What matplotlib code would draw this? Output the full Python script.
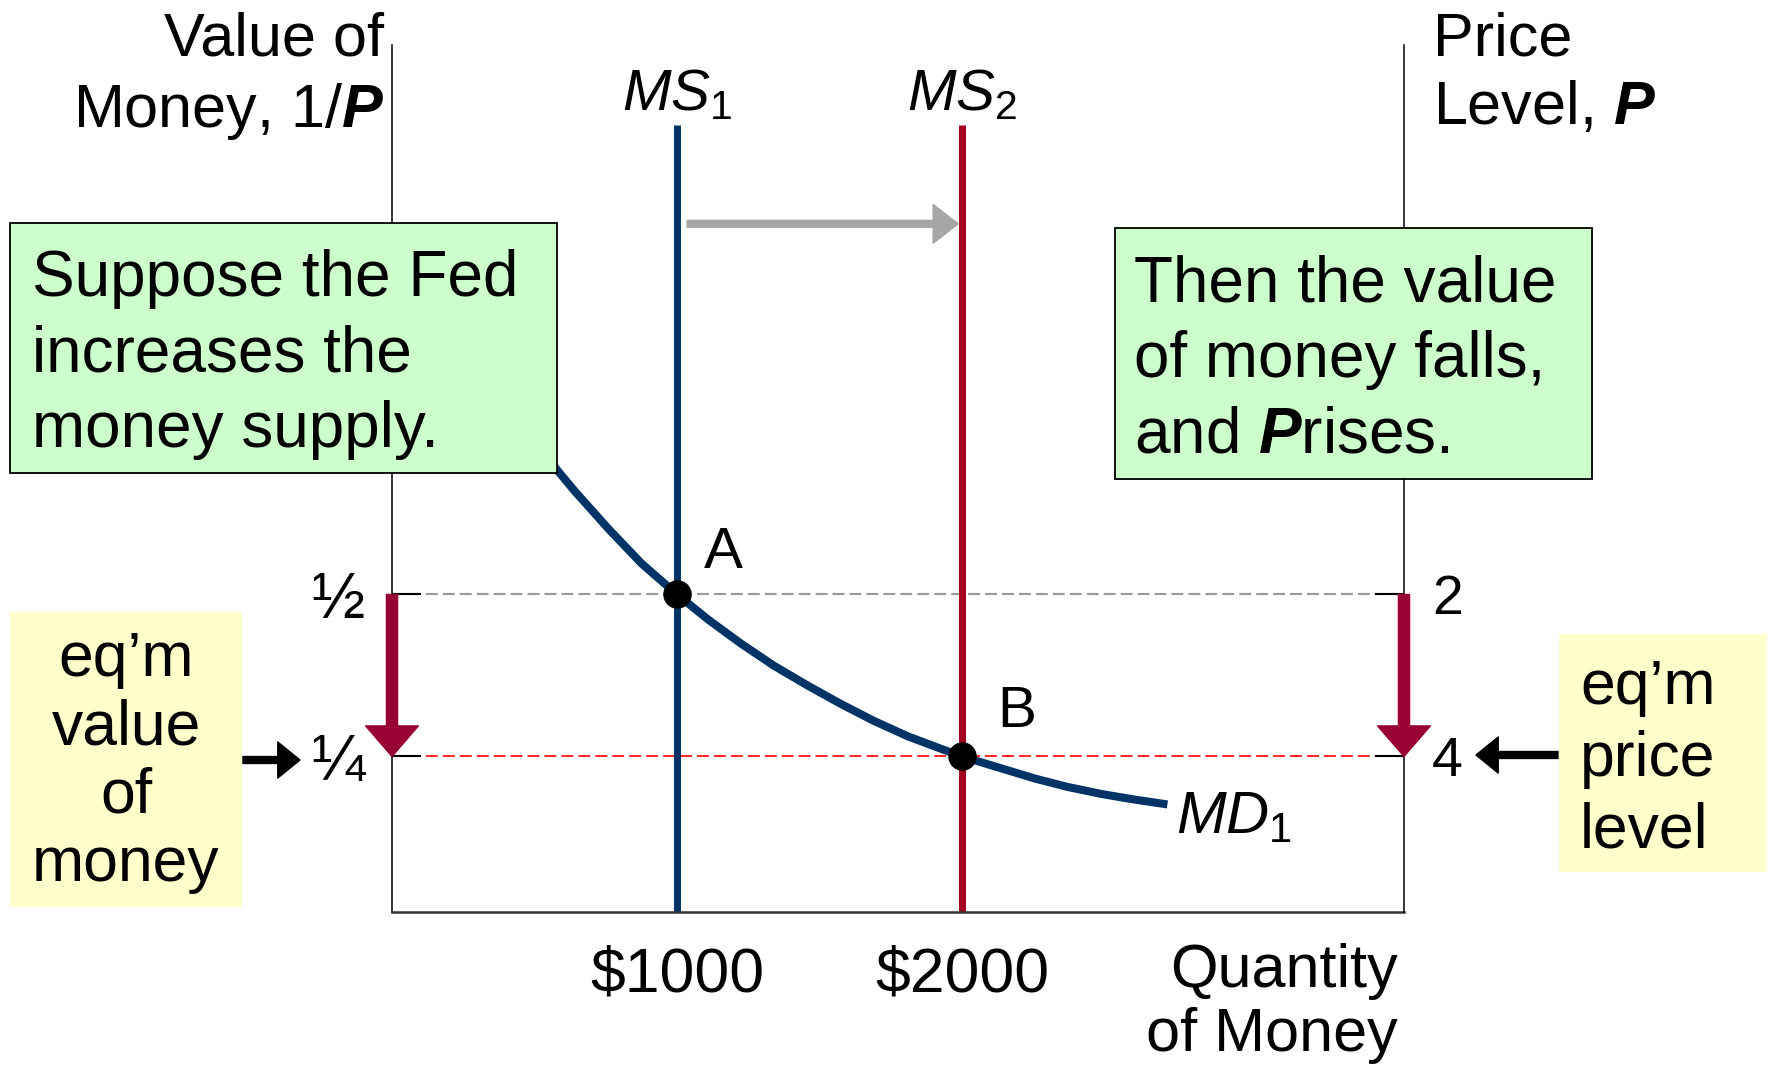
import matplotlib
matplotlib.use("Agg")
import matplotlib.pyplot as plt
from matplotlib.patches import Rectangle, FancyArrowPatch

plt.rcParams['font.family'] = ['Liberation Sans', 'DejaVu Sans']
plt.rcParams['mathtext.fontset'] = 'custom'
plt.rcParams['mathtext.rm'] = 'Liberation Sans'
plt.rcParams['mathtext.it'] = 'Liberation Sans:italic'
plt.rcParams['mathtext.bf'] = 'Liberation Sans:italic:bold'
plt.rcParams['lines.scale_dashes'] = False

# money supply before / after the Fed move
ms_levels = [1000, 2000]
ms_labels = [r'$MS_1$', r'$MS_2$']
ms_colors = ['#003366', '#A50021']
ms_top = 1.225
x_ticks = ['\\$1000', '\\$2000']

# equilibrium value of money (1/P) and the price level
eq_values = [0.5, 0.25]
eq_names = ['A', 'B']
value_ticks = ['½', '¼']
price_ticks = ['2', '4']

# money demand curve
md_q = [380, 585, 640, 760, 875, 1000, 1110, 1225, 1340, 1460,
        1575, 1690, 1810, 1925, 2000, 2255, 2370, 2490, 2605, 2720]
md_v = [0.804, 0.689, 0.660, 0.601, 0.548, 0.500, 0.461, 0.424, 0.390, 0.359,
        0.331, 0.305, 0.281, 0.262, 0.250, 0.216, 0.203, 0.192, 0.1835, 0.176]

W, H = 1773, 1065


def fx(x):
    return x / W


def fy(y):
    return 1 - y / H


fig = plt.figure(figsize=(W / 100, H / 100), dpi=100)
ax = fig.add_axes([fx(392), fy(912), (1404 - 392) / W, (912 - 45) / H])
ax.set_xlim(0, 3550)
ax.set_ylim(0.01, 1.348)

ax.spines['top'].set_visible(False)
ax.spines['right'].set_visible(False)
ax.spines['left'].set_linewidth(1.1)
ax.spines['bottom'].set_linewidth(1.8)
ax.spines['bottom'].set_color('#333333')

# dashed guide lines at the two equilibria
ax.axhline(eq_values[0], color='#999999', lw=1.5, dashes=(8.6, 3.6), zorder=1)
ax.axhline(eq_values[1], color='#FF0000', lw=1.2, dashes=(8.6, 3.6), zorder=1)

ax.vlines(ms_levels, ax.get_ylim()[0], ms_top, colors=ms_colors, lw=5, zorder=2)
ax.plot(md_q, md_v, color='#003366', lw=5.8, solid_capstyle='butt',
        solid_joinstyle='round', zorder=2)
ax.plot(ms_levels, eq_values, 'o', color='black', ms=19.5, zorder=5)

for q, lab in zip(ms_levels, ms_labels):
    ax.annotate(lab, xy=(q, ms_top), xytext=(0, 2), textcoords='offset points',
                ha='center', va='bottom', fontsize=42)

ax.annotate(eq_names[0], xy=(ms_levels[0], eq_values[0]), xytext=(33, 30),
            textcoords='offset points', ha='center', va='center', fontsize=42)
ax.annotate(eq_names[1], xy=(ms_levels[1], eq_values[1]), xytext=(39, 32),
            textcoords='offset points', ha='center', va='center', fontsize=42)
ax.annotate(r'$MD_1$', xy=(md_q[-1], md_v[-1]), xytext=(6, -10),
            textcoords='offset points', ha='left', va='center', fontsize=43)

# shift of money supply
ax.annotate('', xy=(ms_levels[1] - 14, 1.072), xytext=(ms_levels[0] + 35, 1.072),
            arrowprops=dict(arrowstyle='simple,head_length=18,head_width=28,tail_width=5',
                            color='#A6A6A6', mutation_scale=1, shrinkA=0, shrinkB=0))

ax.set_xticks(ms_levels, x_ticks)
ax.tick_params(axis='x', length=0, pad=24, labelsize=45)
ax.set_yticks(eq_values, value_ticks)
ax.tick_params(axis='y', direction='in', length=21, width=1.5, pad=20, labelsize=46)

twin = ax.twinx()
twin.set_ylim(ax.get_ylim())
for s in ['top', 'left', 'bottom']:
    twin.spines[s].set_visible(False)
twin.spines['right'].set_linewidth(1.1)
twin.set_yticks(eq_values, price_ticks)
twin.tick_params(axis='y', direction='in', length=21, width=1.5, pad=20, labelsize=40)

# value falls / price rises
for xe in ax.get_xlim():
    twin.annotate('', xy=(xe, eq_values[1]), xytext=(xe, eq_values[0]),
                  annotation_clip=False,
                  arrowprops=dict(arrowstyle='simple,head_length=22,head_width=38,tail_width=8',
                                  color='#990033', mutation_scale=1, shrinkA=0, shrinkB=0))

# axis titles
fig.text(fx(384), fy(11), 'Value of\nMoney, 1/$\\mathbf{P}$', ha='right', va='top',
         multialignment='right', fontsize=44, linespacing=1.28)
fig.text(fx(1433), fy(11), 'Price\nLevel, $\\mathbf{P}$', ha='left', va='top',
         fontsize=44, linespacing=1.28)
fig.text(fx(1398), fy(943), 'Quantity\nof Money', ha='right', va='top',
         multialignment='right', fontsize=44, linespacing=1.17)

# call-out boxes
def box(x0, y0, x1, y1, fc, ec):
    fig.patches.append(Rectangle((fx(x0), fy(y1)), (x1 - x0) / W, (y1 - y0) / H,
                                 transform=fig.transFigure, fc=fc,
                                 ec=ec if ec else 'none', lw=1.3, zorder=1))


box(10, 223, 557, 473, '#CCFFCC', 'black')
box(1115, 228, 1592, 479, '#CCFFCC', 'black')
box(10, 612, 242, 907, '#FFFFCC', None)
box(1559, 634, 1767, 872, '#FFFFCC', None)

fig.text(fx(32), fy(249), 'Suppose the Fed\nincreases the\nmoney supply.',
         ha='left', va='top', fontsize=46, linespacing=1.33, zorder=4)
fig.text(fx(1134), fy(254), 'Then the value\nof money falls,\nand $\\mathbf{P}$rises.',
         ha='left', va='top', fontsize=46, linespacing=1.33, zorder=4)
fig.text(fx(126), fy(630), 'eq’m\nvalue\nof\nmoney', ha='center', va='top',
         multialignment='center', fontsize=45, linespacing=1.2, zorder=4)
fig.text(fx(1580), fy(658), 'eq’m\nprice\nlevel', ha='left', va='top',
         fontsize=45, linespacing=1.28, zorder=4)


def arrow(x0, y0, x1, y1):
    fig.add_artist(FancyArrowPatch((fx(x0), fy(y0)), (fx(x1), fy(y1)),
                                   transform=fig.transFigure, mutation_scale=1,
                                   arrowstyle='simple,head_length=16,head_width=26,tail_width=5',
                                   color='black', shrinkA=0, shrinkB=0, zorder=4))


arrow(243, 760, 300, 760)
arrow(1558, 755, 1476, 755)

fig.savefig('out.png', dpi=100, facecolor='white')
